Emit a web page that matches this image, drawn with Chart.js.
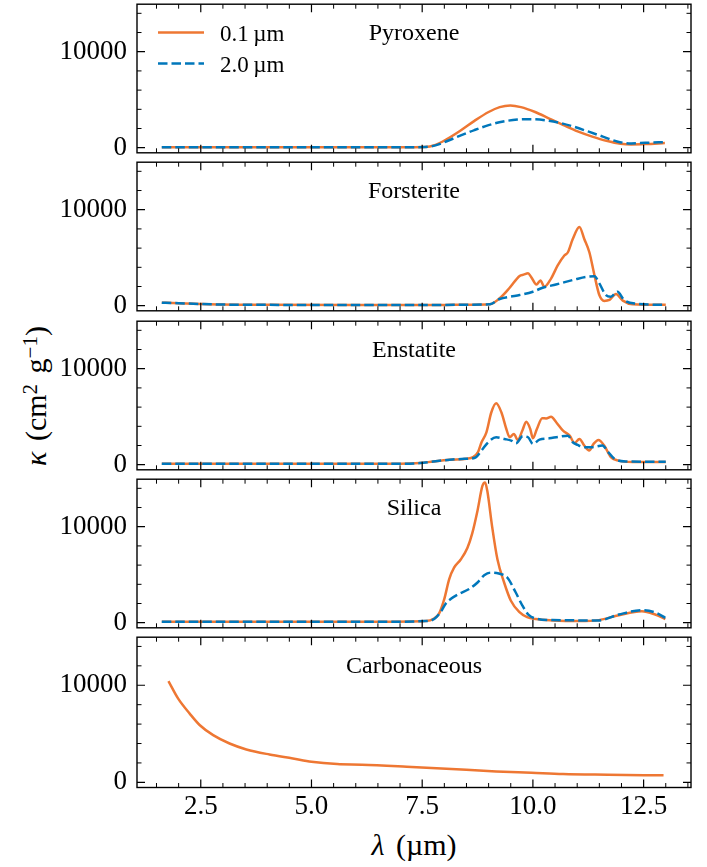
<!DOCTYPE html>
<html><head><meta charset="utf-8">
<script src="https://cdn.jsdelivr.net/npm/chart.js@4.4.1/dist/chart.umd.min.js"></script>
<style>
html,body{margin:0;padding:0;background:#fff;}
#wrap{position:relative;width:707px;height:867px;overflow:hidden;background:#fff;}
canvas{position:absolute;left:0;}
.lab{position:absolute;font-family:"Liberation Serif",serif;color:#000;white-space:nowrap;line-height:1;}
.sup{position:relative;top:-0.42em;font-size:0.7em;}
</style></head><body>
<div id="wrap">
<div id="ylab" class="lab" style="font-size:30px;word-spacing:3px;left:36px;top:396px;transform:translate(-50%,-50%) rotate(-90deg);"><i>κ</i> (cm<span class="sup">2</span> g<span class="sup">−1</span>)</div>
<div id="xlab" class="lab" style="font-size:30px;word-spacing:4px;left:414px;top:830px;transform:translateX(-50%);"><i>λ</i> (µm)</div>
</div>
<script>
// ---------- data ----------
const seriesLabels = ['0.1\u2009µm', '2.0\u2009µm'];
const panelTitles = ['Pyroxene', 'Forsterite', 'Enstatite', 'Silica', 'Carbonaceous'];
const xTickValues = [2.5, 5.0, 7.5, 10.0, 12.5];
const yTickValues = [0, 10000];

const pyroxeneX01 = [1.62, 3.0, 5.0, 7.0, 7.56, 7.8, 8.04, 8.36, 8.68, 9.0, 9.25, 9.49, 9.73, 10.05, 10.37, 10.69, 11.01, 11.34, 11.66, 11.98, 12.22, 12.54, 12.98];
const pyroxeneK01 = [40, 40, 40, 50, 70, 300, 850, 1770, 2800, 3720, 4230, 4400, 4230, 3720, 3030, 2350, 1700, 1160, 720, 410, 340, 375, 480];
const pyroxeneX20 = [1.62, 3.0, 5.0, 7.0, 7.56, 7.8, 8.04, 8.36, 8.68, 9.0, 9.33, 9.65, 9.97, 10.29, 10.61, 10.93, 11.26, 11.58, 11.9, 12.22, 12.54, 12.98];
const pyroxeneK20 = [40, 40, 40, 50, 70, 240, 650, 1260, 1840, 2350, 2730, 2930, 2970, 2860, 2590, 2180, 1670, 1160, 650, 440, 510, 580];

const forsteriteX01 = [1.62, 2.0, 2.5, 3.0, 4.0, 6.0, 8.0, 8.5, 9.03, 9.25, 9.475, 9.7, 9.79, 9.89, 9.96, 10.08, 10.17, 10.26, 10.41, 10.56, 10.71, 10.79, 10.9, 11.05, 11.16, 11.275, 11.39, 11.5, 11.61, 11.73, 11.875, 12.03, 12.25, 13.0];
const forsteriteK01 = [320, 260, 180, 120, 90, 70, 80, 100, 150, 770, 1870, 3100, 3240, 3380, 3000, 2210, 2620, 1970, 2830, 4200, 5230, 5570, 6950, 8210, 6950, 5570, 3170, 1110, 500, 600, 1220, 530, 150, 90];
const forsteriteX20 = [1.62, 2.0, 2.5, 3.0, 4.0, 6.0, 8.0, 8.5, 9.03, 9.25, 9.475, 9.7, 10.0, 10.22, 10.52, 10.97, 11.2, 11.39, 11.5, 11.65, 11.76, 11.91, 12.06, 12.3, 13.0];
const forsteriteK20 = [320, 260, 180, 120, 90, 70, 80, 100, 150, 700, 940, 1110, 1460, 1870, 2210, 2760, 3000, 3070, 2320, 1110, 940, 1460, 600, 220, 90];

const enstatiteX01 = [1.62, 4.0, 7.0, 7.45, 7.75, 8.12, 8.5, 8.65, 8.76, 8.84, 8.95, 9.06, 9.17, 9.29, 9.4, 9.475, 9.57, 9.66, 9.76, 9.85, 9.94, 10.0, 10.09, 10.21, 10.3, 10.41, 10.53, 10.68, 10.83, 10.94, 11.05, 11.16, 11.27, 11.37, 11.48, 11.61, 11.76, 11.91, 12.25, 13.0];
const enstatiteK01 = [100, 100, 100, 170, 340, 520, 620, 790, 1310, 2340, 3370, 5440, 6400, 5440, 3720, 2860, 3200, 2580, 3540, 4470, 3720, 2750, 3720, 4850, 4820, 4990, 4400, 3540, 3030, 2270, 2680, 2000, 1480, 2170, 2580, 2000, 790, 450, 280, 280];
const enstatiteX20 = [1.62, 4.0, 7.0, 7.45, 7.75, 8.12, 8.5, 8.69, 8.84, 8.99, 9.17, 9.36, 9.51, 9.62, 9.77, 9.89, 10.0, 10.15, 10.37, 10.6, 10.79, 10.9, 11.01, 11.16, 11.31, 11.57, 11.69, 11.84, 12.1, 13.0];
const enstatiteK20 = [100, 100, 100, 170, 340, 520, 620, 720, 1480, 2340, 2860, 2680, 2510, 2240, 2960, 2860, 2170, 2610, 2750, 2920, 3030, 2340, 2060, 1820, 1820, 2000, 1380, 620, 340, 310];

const silicaX01 = [1.62, 4.0, 6.53, 7.58, 7.77, 7.88, 8.0, 8.11, 8.22, 8.37, 8.52, 8.63, 8.75, 8.86, 8.92, 8.97, 9.08, 9.2, 9.35, 9.5, 9.69, 9.87, 10.06, 10.44, 11.04, 11.49, 11.94, 12.46, 12.76, 12.99];
const silicaK01 = [100, 100, 100, 170, 440, 950, 2490, 4540, 5730, 6580, 7780, 9310, 11700, 14250, 14600, 13740, 9990, 6580, 4190, 2320, 1130, 580, 380, 240, 170, 270, 780, 1190, 850, 380];
const silicaX20 = [1.62, 4.0, 6.53, 7.58, 7.77, 7.92, 8.03, 8.15, 8.33, 8.56, 8.75, 8.9, 9.05, 9.23, 9.42, 9.61, 9.76, 9.91, 10.06, 10.44, 11.49, 11.94, 12.46, 12.76, 12.99];
const silicaK20 = [100, 100, 100, 170, 380, 1130, 1980, 2490, 3000, 3510, 4190, 4940, 5220, 5120, 4710, 3170, 1810, 780, 440, 270, 240, 850, 1300, 1060, 510];

const carbonX01 = [1.77, 1.99, 2.25, 2.48, 2.78, 3.15, 3.53, 4.05, 4.58, 5.0, 5.58, 6.14, 7.15, 8.16, 9.17, 9.97, 10.68, 11.69, 12.95];
const carbonK01 = [10430, 8620, 7080, 5880, 4860, 4000, 3390, 2870, 2460, 2120, 1880, 1820, 1610, 1370, 1130, 990, 860, 790, 720];

// ---------- styling / layout ----------
const ORANGE = '#EE7733', BLUE = '#0077BB';
const FONT = '"Liberation Serif", "Times New Roman", serif';
const W = 707, H = 867;
const PLOT_LEFT = 137, PLOT_RIGHT = 691;
const PANEL_TOP0 = 3.5, PANEL_STEP = 158.3, PANEL_H = 150.8;
const X_MIN = 1.06, X_MAX = 13.57, Y_MIN = -530, Y_MAX = 14950;
const PAD = 25;

function pts(xs, ys) { return xs.map((x, i) => ({x: x, y: ys[i]})); }

const panels = [
  {title: panelTitles[0], s01: pts(pyroxeneX01, pyroxeneK01), s20: pts(pyroxeneX20, pyroxeneK20), legend: true},
  {title: panelTitles[1], s01: pts(forsteriteX01, forsteriteK01), s20: pts(forsteriteX20, forsteriteK20)},
  {title: panelTitles[2], s01: pts(enstatiteX01, enstatiteK01), s20: pts(enstatiteX20, enstatiteK20)},
  {title: panelTitles[3], s01: pts(silicaX01, silicaK01), s20: pts(silicaX20, silicaK20)},
  {title: panelTitles[4], s01: pts(carbonX01, carbonK01), s20: null}
];

const framePlugin = {
  id: 'frame',
  afterDatasetsDraw(chart, args, opts) {
    const {ctx, chartArea: a, scales: {x, y}} = chart;
    ctx.save();
    ctx.strokeStyle = '#000';
    const tick = (isX, v, len, lw) => {
      ctx.lineWidth = lw;
      ctx.beginPath();
      if (isX) {
        const p = x.getPixelForValue(v);
        ctx.moveTo(p, a.bottom); ctx.lineTo(p, a.bottom - len);
        ctx.moveTo(p, a.top); ctx.lineTo(p, a.top + len);
      } else {
        const p = y.getPixelForValue(v);
        ctx.moveTo(a.left, p); ctx.lineTo(a.left + len, p);
        ctx.moveTo(a.right, p); ctx.lineTo(a.right - len, p);
      }
      ctx.stroke();
    };
    for (let v = 1.5; v <= 13.5 + 1e-9; v += 0.5) {
      const major = xTickValues.some(t => Math.abs(t - v) < 1e-6);
      tick(true, v, major ? 8 : 4.5, major ? 1.2 : 1);
    }
    for (let v = 0; v <= 14000; v += 2000) {
      const major = yTickValues.includes(v);
      tick(false, v, major ? 8 : 4.5, major ? 1.2 : 1);
    }
    ctx.lineWidth = 1.4;
    ctx.strokeRect(a.left, a.top, a.right - a.left, a.bottom - a.top);
    ctx.fillStyle = '#000';
    ctx.font = '24px ' + FONT;
    ctx.textAlign = 'center';
    ctx.textBaseline = 'alphabetic';
    ctx.fillText(opts.title, (a.left + a.right) / 2, a.top + 36);
    if (opts.legend) {
      const rows = [{c: ORANGE, d: [], t: seriesLabels[0], ly: 28.2, ty: 36.8},
                    {c: BLUE, d: [9.5, 4], t: seriesLabels[1], ly: 59.2, ty: 67.4}];
      ctx.font = '23px ' + FONT;
      rows.forEach(r => {
        ctx.strokeStyle = r.c; ctx.lineWidth = 2.5; ctx.setLineDash(r.d);
        ctx.beginPath(); ctx.moveTo(a.left + 21, a.top + r.ly); ctx.lineTo(a.left + 67, a.top + r.ly); ctx.stroke();
        ctx.setLineDash([]);
        ctx.fillStyle = '#000'; ctx.textAlign = 'left';
        ctx.fillText(r.t, a.left + 83, a.top + r.ty);
      });
    }
    ctx.restore();
  }
};

const wrap = document.getElementById('wrap');
panels.forEach((p, i) => {
  const top = PANEL_TOP0 + i * PANEL_STEP;
  const last = i === panels.length - 1;
  const cTop = Math.floor(top - PAD);
  const cH = last ? (H - cTop) : Math.ceil(PANEL_H + 2 * PAD);
  const padTop = top - cTop;
  const bottomRoom = cH - padTop - PANEL_H;
  const cv = document.createElement('canvas');
  cv.width = W; cv.height = cH;
  cv.style.top = cTop + 'px';
  cv.style.width = W + 'px'; cv.style.height = cH + 'px';
  wrap.appendChild(cv);

  const datasets = [];
  datasets.push({label: seriesLabels[0], data: p.s01, borderColor: ORANGE, borderWidth: 2.5,
    pointRadius: 0, fill: false, order: 1, cubicInterpolationMode: 'monotone', tension: 0});
  if (p.s20) datasets.push({label: seriesLabels[1], data: p.s20, borderColor: BLUE, borderWidth: 2.5,
    borderDash: [9.5, 4], pointRadius: 0, fill: false, order: 0,
    cubicInterpolationMode: 'monotone', tension: 0});

  new Chart(cv, {
    type: 'line',
    data: {datasets},
    options: {
      responsive: false, maintainAspectRatio: false, animation: false, devicePixelRatio: 1,
      layout: {padding: {top: padTop, left: 0, right: W - PLOT_RIGHT, bottom: last ? 0 : bottomRoom}},
      plugins: {legend: {display: false}, tooltip: {enabled: false}, frame: {title: p.title, legend: !!p.legend}},
      events: [],
      scales: {
        x: {
          type: 'linear', min: X_MIN, max: X_MAX,
          grid: {display: false, drawTicks: false}, border: {display: false},
          afterBuildTicks: s => { s.ticks = xTickValues.map(v => ({value: v})); },
          afterFit: s => { s.height = last ? bottomRoom : 0; },
          ticks: {display: last, autoSkip: false, maxRotation: 0, padding: 3, color: '#000',
            font: {family: FONT, size: 27}, callback: v => Number(v).toFixed(1)}
        },
        y: {
          type: 'linear', min: Y_MIN, max: Y_MAX,
          grid: {display: false, drawTicks: false}, border: {display: false},
          afterBuildTicks: s => { s.ticks = yTickValues.map(v => ({value: v})); },
          afterFit: s => { s.width = PLOT_LEFT; },
          ticks: {padding: 10, color: '#000', font: {family: FONT, size: 27}, callback: v => String(v)}
        }
      }
    },
    plugins: [framePlugin]
  });
});
</script>
</body></html>
